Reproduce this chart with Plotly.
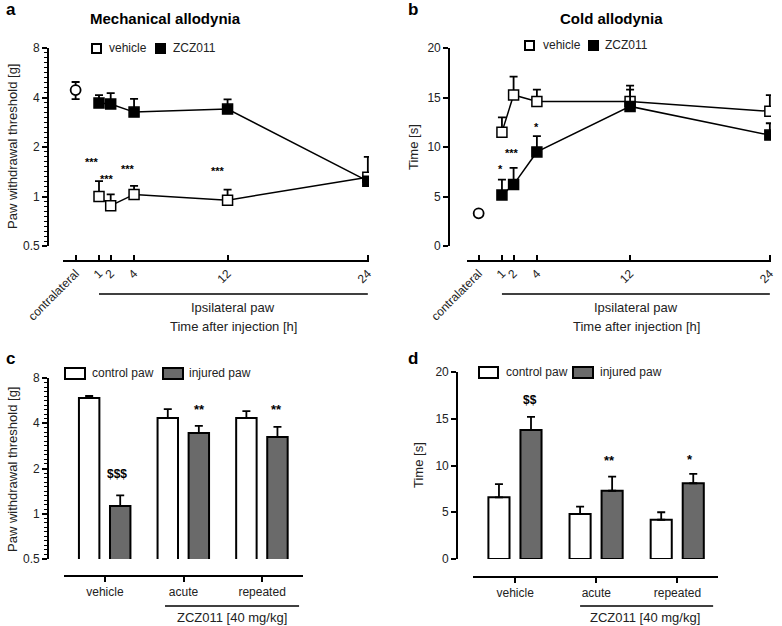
import numpy as np
import plotly.graph_objects as go

W, H = 782, 626

# ---- panel a / b : time course ----
hours = [1, 2, 4, 12, 24]
contra_x = [-1]
x_tickvals = [-1, 1, 2, 4, 12, 24]
x_ticktext = ["contralateral", "1", "2", "4", "12", "24"]

mech_contra = [4.44]
mech_contra_err = [0.53]
mech_vehicle = [1.0, 0.88, 1.03, 0.95, 1.31]
mech_vehicle_err = [0.24, 0.15, 0.13, 0.15, 0.43]
mech_zcz = [3.70, 3.65, 3.26, 3.40, 1.24]
mech_zcz_err = [0.44, 0.60, 0.66, 0.50, 0.05]
mech_star_x = [0.4, 1.7, 3.5, 11.2]
mech_star_y = [1.69, 1.33, 1.53, 1.49]
mech_star_txt = ["***", "***", "***", "***"]

cold_contra = [3.3]
cold_vehicle = [11.5, 15.25, 14.6, 14.6, 13.6]
cold_vehicle_err = [1.5, 1.85, 1.2, 1.6, 1.65]
cold_zcz = [5.15, 6.2, 9.5, 14.1, 11.2]
cold_zcz_err = [1.55, 1.7, 1.6, 1.7, 1.2]
cold_star_x = [0.85, 1.9, 4.0]
cold_star_y = [8.1, 9.7, 12.3]
cold_star_txt = ["*", "***", "*"]

# ---- panel c / d : bars ----
groups = ["vehicle", "acute", "repeated"]
gpos = [0, 1, 2]
mech_control = [5.9, 4.34, 4.34]
mech_control_err = [0.17, 0.63, 0.48]
mech_injured = [1.125, 3.44, 3.24]
mech_injured_err = [0.2, 0.4, 0.54]
c_mark_x = [0.154, 1.198, 2.177]
c_mark_y = [1.84, 5.1, 5.1]
c_mark_txt = ["$$$", "**", "**"]

cold_control = [6.6, 4.8, 4.2]
cold_control_err = [1.4, 0.8, 0.8]
cold_injured = [13.8, 7.3, 8.1]
cold_injured_err = [1.4, 1.5, 1.0]
d_mark_x = [0.183, 1.157, 2.156]
d_mark_y = [17.0, 10.7, 10.9]
d_mark_txt = ["$$", "**", "*"]

FONT = "Liberation Sans, Arial, sans-serif"
GREY = "#6a6a6a"


def px(x):
    return x / W


def py(y):
    return 1 - y / H


def err(vals, sym=False):
    return dict(type="data", array=vals, symmetric=sym, arrayminus=vals if sym else [0] * len(vals),
                color="black", thickness=1.8, width=4)


fig = go.Figure()

# a
fig.add_trace(go.Scatter(x=contra_x, y=mech_contra, mode="markers", xaxis="x", yaxis="y",
                         marker=dict(symbol="circle", size=10, color="white", line=dict(color="black", width=1.8)),
                         error_y=err(mech_contra_err, True), showlegend=False))
fig.add_trace(go.Scatter(x=hours, y=mech_vehicle, mode="lines+markers", xaxis="x", yaxis="y",
                         line=dict(color="black", width=1.5),
                         marker=dict(symbol="square", size=10, color="white", line=dict(color="black", width=1.5)),
                         error_y=err(mech_vehicle_err), showlegend=False))
fig.add_trace(go.Scatter(x=hours, y=mech_zcz, mode="lines+markers", xaxis="x", yaxis="y",
                         line=dict(color="black", width=1.5),
                         marker=dict(symbol="square", size=10, color="black", line=dict(color="black", width=1.5)),
                         error_y=err(mech_zcz_err), showlegend=False))
# b
fig.add_trace(go.Scatter(x=contra_x, y=cold_contra, mode="markers", xaxis="x2", yaxis="y2",
                         marker=dict(symbol="circle", size=10, color="white", line=dict(color="black", width=1.8)),
                         showlegend=False))
fig.add_trace(go.Scatter(x=hours, y=cold_vehicle, mode="lines+markers", xaxis="x2", yaxis="y2",
                         line=dict(color="black", width=1.5),
                         marker=dict(symbol="square", size=10, color="white", line=dict(color="black", width=1.5)),
                         error_y=err(cold_vehicle_err), showlegend=False))
fig.add_trace(go.Scatter(x=hours, y=cold_zcz, mode="lines+markers", xaxis="x2", yaxis="y2",
                         line=dict(color="black", width=1.5),
                         marker=dict(symbol="square", size=10, color="black", line=dict(color="black", width=1.5)),
                         error_y=err(cold_zcz_err), showlegend=False))
# c
fig.add_trace(go.Bar(x=gpos, y=mech_control, xaxis="x3", yaxis="y3", width=0.26, offset=-0.33,
                     marker=dict(color="white", line=dict(color="black", width=2)),
                     error_y=err(mech_control_err), showlegend=False))
fig.add_trace(go.Bar(x=gpos, y=mech_injured, xaxis="x3", yaxis="y3", width=0.26, offset=0.065,
                     marker=dict(color=GREY, line=dict(color="black", width=2)),
                     error_y=err(mech_injured_err), showlegend=False))
# d
fig.add_trace(go.Bar(x=gpos, y=cold_control, xaxis="x4", yaxis="y4", width=0.26, offset=-0.33,
                     marker=dict(color="white", line=dict(color="black", width=2)),
                     error_y=err(cold_control_err), showlegend=False))
fig.add_trace(go.Bar(x=gpos, y=cold_injured, xaxis="x4", yaxis="y4", width=0.26, offset=0.065,
                     marker=dict(color=GREY, line=dict(color="black", width=2)),
                     error_y=err(cold_injured_err), showlegend=False))

base_axis = dict(showgrid=False, zeroline=False, showline=True, linecolor="black", linewidth=1.6,
                 ticks="outside", ticklen=5, tickwidth=1.5, tickcolor="black", automargin=False,
                 tickfont=dict(family=FONT, size=12, color="#222"), anchor="free")

log_minor = [0.5 * 2 ** (k / 10) for k in range(41) if k % 10]
minor_cfg = dict(tickmode="array", tickvals=log_minor, ticks="outside", ticklen=3, tickwidth=1, tickcolor="black")

ytop_ab, ybot_ab = py(246), py(48)
fig.update_layout(
    template="none",
    width=W, height=H, margin=dict(l=0, r=0, t=0, b=0),
    paper_bgcolor="white", plot_bgcolor="white", barmode="overlay",
    font=dict(family=FONT, color="black"),
    xaxis=dict(base_axis, domain=[px(63), px(369)], range=[-2.08, 24.1], position=py(261),
               ticks="inside", tickvals=x_tickvals, ticktext=x_ticktext, tickangle=-45),
    yaxis=dict(base_axis, domain=[ytop_ab, ybot_ab], type="log", range=[np.log10(0.5), np.log10(8)],
               position=px(48), tickvals=[0.5, 1, 2, 4, 8], ticktext=["0.5", "1", "2", "4", "8"],
               minor=minor_cfg),
    xaxis2=dict(base_axis, domain=[px(467), px(771)], range=[-2.0, 24.1], position=py(261),
                ticks="inside", tickvals=x_tickvals, ticktext=x_ticktext, tickangle=-45),
    yaxis2=dict(base_axis, domain=[ytop_ab, ybot_ab], range=[0, 20], position=px(449),
                tickvals=[0, 5, 10, 15, 20]),
    xaxis3=dict(base_axis, domain=[px(64), px(303)], range=[-0.52, 2.52], position=py(576),
                tickvals=gpos, ticktext=groups),
    yaxis3=dict(base_axis, domain=[py(559), py(378)], type="log", range=[np.log10(0.5), np.log10(8)],
                position=px(48), tickvals=[0.5, 1, 2, 4, 8], ticktext=["0.5", "1", "2", "4", "8"],
                minor=minor_cfg),
    xaxis4=dict(base_axis, domain=[px(473), px(718)], range=[-0.52, 2.5], position=py(577),
                tickvals=gpos, ticktext=groups),
    yaxis4=dict(base_axis, domain=[py(559), py(372)], range=[0, 20], position=px(457),
                tickvals=[0, 5, 10, 15, 20]),
)

ann = []


def text(x, y, s, size=12, bold=False, angle=0, xanchor="center", xref="paper", yref="paper", color="black"):
    if bold:
        s = "<b>" + s + "</b>"
    ann.append(dict(x=x, y=y, xref=xref, yref=yref, text=s, showarrow=False, textangle=angle,
                    xanchor=xanchor, yanchor="middle", font=dict(family=FONT, size=size, color=color)))


# panel letters and titles
text(px(4), py(10), "a", 17, True, xanchor="left")
text(px(406), py(10), "b", 17, True, xanchor="left")
text(px(4), py(358), "c", 17, True, xanchor="left")
text(px(406), py(358), "d", 17, True, xanchor="left")
text(px(165), py(18), "Mechanical allodynia", 15, True)
text(px(611), py(18), "Cold allodynia", 15, True)

# axis titles
text(px(12), py(147), "Paw withdrawal threshold [g]", 13, angle=-90, color="#222")
text(px(413), py(147), "Time [s]", 13, angle=-90, color="#222")
text(px(12), py(470), "Paw withdrawal threshold [g]", 13, angle=-90, color="#222")
text(px(418), py(465), "Time [s]", 13, angle=-90, color="#222")

text(px(233), py(308), "Ipsilateral paw", 13, color="#222")
text(px(636), py(308), "Ipsilateral paw", 13, color="#222")
text(px(233), py(326), "Time after injection [h]", 13, color="#222")
text(px(636), py(326), "Time after injection [h]", 13, color="#222")
text(px(232), py(617), "ZCZ011 [40 mg/kg]", 13, color="#222")
text(px(645), py(617), "ZCZ011 [40 mg/kg]", 13, color="#222")

# significance marks
for xv, yv, s in zip(mech_star_x, mech_star_y, mech_star_txt):
    ann.append(dict(x=xv, y=np.log10(yv), xref="x", yref="y", text="<b>" + s + "</b>", showarrow=False,
                    yshift=-3, font=dict(family=FONT, size=11, color="black")))
for xv, yv, s in zip(cold_star_x, cold_star_y, cold_star_txt):
    ann.append(dict(x=xv, y=yv, xref="x2", yref="y2", text="<b>" + s + "</b>", showarrow=False,
                    yshift=-3, font=dict(family=FONT, size=11, color="black")))
for xv, yv, s in zip(c_mark_x, c_mark_y, c_mark_txt):
    ann.append(dict(x=xv, y=np.log10(yv), xref="x3", yref="y3", text="<b>" + s + "</b>", showarrow=False,
                    yshift=-2 if "*" in s else 0, font=dict(family=FONT, size=13 if "*" in s else 12, color="black")))
for xv, yv, s in zip(d_mark_x, d_mark_y, d_mark_txt):
    ann.append(dict(x=xv, y=yv, xref="x4", yref="y4", text="<b>" + s + "</b>", showarrow=False,
                    yshift=-2 if "*" in s else 0, font=dict(family=FONT, size=13 if "*" in s else 12, color="black")))

shapes = []


def hline(x0, x1, y, xref):
    shapes.append(dict(type="line", xref=xref, yref="paper", x0=x0, x1=x1, y0=y, y1=y,
                       line=dict(color="black", width=1.6)))


hline(1, 24, py(294), "x")
hline(1, 24, py(294), "x2")
hline(0.765, 2.47, py(606), "x3")
hline(0.80, 2.44, py(606), "x4")


def legend_box(x0, x1, y0, y1, fill):
    shapes.append(dict(type="rect", xref="paper", yref="paper", x0=px(x0), x1=px(x1), y0=py(y1), y1=py(y0),
                       fillcolor=fill, line=dict(color="black", width=2)))


# legends
legend_box(92, 101, 44, 53, "white")
text(px(107), py(48), "vehicle", 12, xanchor="left", color="#222")
legend_box(156, 165, 44, 53, "black")
text(px(171), py(48), "ZCZ011", 12, xanchor="left", color="#222")

legend_box(525, 534, 41, 50, "white")
text(px(541), py(45), "vehicle", 12, xanchor="left", color="#222")
legend_box(589, 598, 41, 50, "black")
text(px(603), py(45), "ZCZ011", 12, xanchor="left", color="#222")

legend_box(65, 85, 368, 379, "white")
text(px(90), py(373), "control paw", 12, xanchor="left", color="#222")
legend_box(163, 183, 368, 379, GREY)
text(px(187), py(373), "injured paw", 12, xanchor="left", color="#222")

legend_box(479, 498, 367, 378, "white")
text(px(504), py(372), "control paw", 12, xanchor="left", color="#222")
legend_box(573, 593, 367, 378, GREY)
text(px(598), py(372), "injured paw", 12, xanchor="left", color="#222")

fig.update_layout(annotations=ann, shapes=shapes)
# the page's default 8px body margin would push the figure off the window
fig.write_html("out.html", config={"displayModeBar": False},
               post_script="document.body.style.margin='0';document.body.style.overflow='hidden';")
